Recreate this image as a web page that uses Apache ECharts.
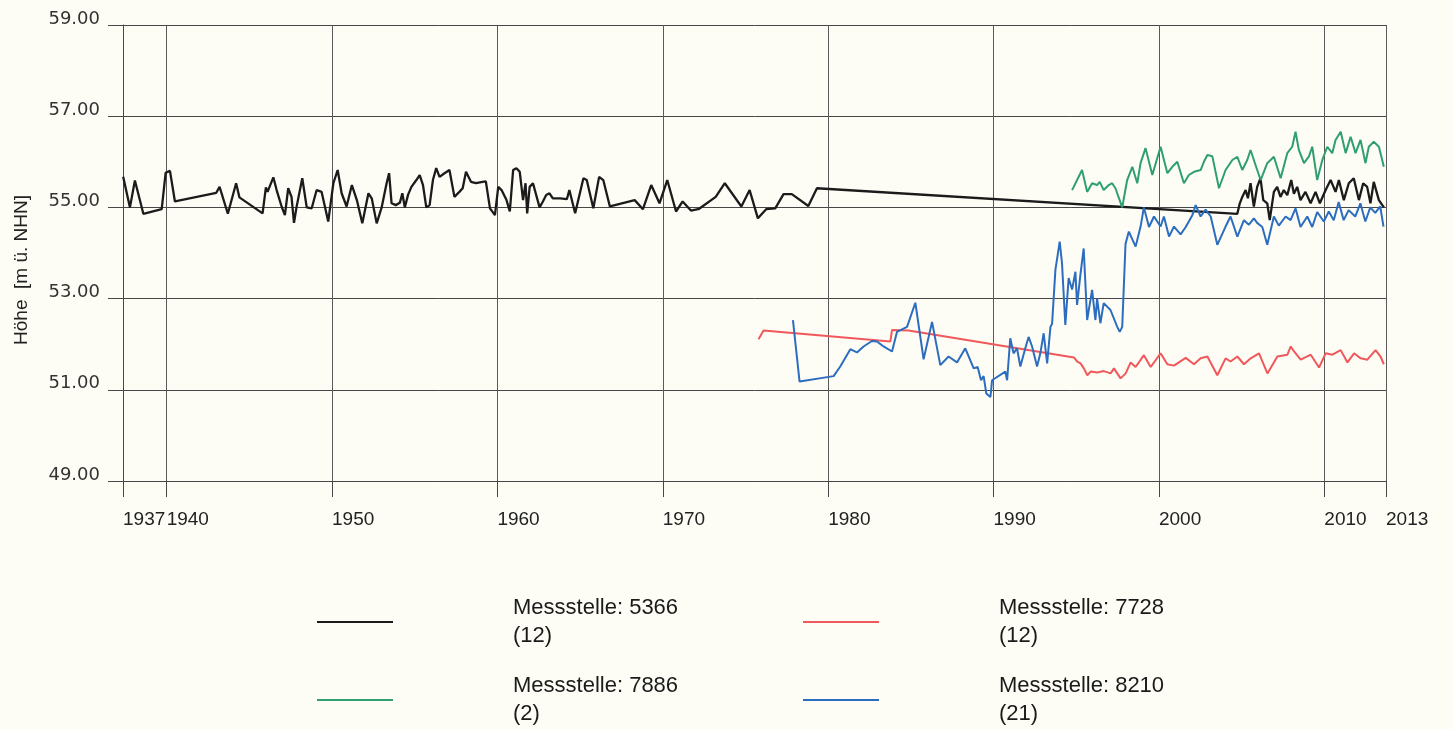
<!DOCTYPE html>
<html>
<head>
<meta charset="utf-8">
<script src="https://cdn.jsdelivr.net/npm/echarts@6/dist/echarts.min.js"></script>
<style>
  html, body { margin: 0; padding: 0; background: #fdfdf6; }
  #chart { width: 1454px; height: 729px; }
</style>
</head>
<body>
<div id="chart"></div>
<script>
// Grundwasserstände (m ü. NHN) der Messstellen, Zeit in Dezimaljahren
const years5366 = [1937.37,1937.78,1938.08,1938.59,1939.70,1939.94,1940.20,1940.50,1943.00,1943.20,1943.70,1944.20,1944.40,1945.80,1946.00,1946.10,1946.45,1946.65,1946.95,1947.15,1947.35,1947.55,1947.70,1947.85,1948.20,1948.47,1948.77,1949.07,1949.37,1949.77,1950.08,1950.34,1950.58,1950.88,1951.20,1951.50,1951.83,1952.20,1952.40,1952.70,1953.00,1953.30,1953.45,1953.60,1953.85,1954.10,1954.25,1954.40,1954.60,1954.80,1955.10,1955.30,1955.50,1955.70,1955.90,1956.10,1956.30,1956.50,1956.80,1957.10,1957.40,1957.70,1957.90,1958.10,1958.40,1958.70,1959.10,1959.30,1959.55,1959.85,1960.05,1960.25,1960.55,1960.75,1960.95,1961.15,1961.35,1961.55,1961.70,1961.80,1961.95,1962.15,1962.55,1962.75,1962.95,1963.15,1963.35,1963.80,1964.20,1964.35,1964.70,1965.20,1965.40,1965.80,1966.15,1966.40,1966.80,1968.30,1968.80,1969.30,1969.80,1970.27,1970.80,1971.20,1971.70,1972.20,1973.20,1973.75,1974.75,1975.25,1975.75,1976.25,1976.80,1977.30,1977.80,1978.80,1979.32,2004.74,2004.89,2005.04,2005.24,2005.38,2005.54,2005.74,2005.94,2006.14,2006.31,2006.55,2006.70,2006.95,2007.15,2007.35,2007.55,2007.76,2008.00,2008.16,2008.36,2008.56,2008.86,2009.17,2009.47,2009.73,2010.08,2010.38,2010.68,2010.88,2011.18,2011.48,2011.78,2012.09,2012.35,2012.59,2012.79,2012.99,2013.30,2013.60];
const levels5366 = [55.67,55.00,55.59,54.86,54.96,55.76,55.80,55.13,55.32,55.45,54.86,55.53,55.22,54.87,55.44,55.34,55.66,55.38,55.02,54.83,55.42,55.23,54.66,55.00,55.64,55.00,54.98,55.38,55.34,54.69,55.53,55.82,55.31,55.02,55.49,55.16,54.65,55.31,55.20,54.65,55.00,55.53,55.75,55.09,55.05,55.10,55.31,55.00,55.28,55.45,55.60,55.71,55.49,55.00,55.05,55.60,55.86,55.67,55.75,55.82,55.23,55.34,55.42,55.78,55.56,55.53,55.56,55.57,54.98,54.83,55.45,55.38,55.16,54.91,55.82,55.86,55.78,55.16,55.53,54.87,55.45,55.53,55.00,55.13,55.27,55.31,55.20,55.20,55.18,55.38,54.87,55.64,55.60,54.98,55.67,55.60,55.02,55.16,54.96,55.49,55.09,55.60,54.91,55.13,54.93,54.97,55.23,55.53,55.02,55.38,54.76,54.96,54.98,55.29,55.29,55.03,55.42,54.86,55.09,55.23,55.38,55.20,55.53,55.02,55.45,55.64,55.16,55.09,54.72,55.34,55.45,55.23,55.38,55.27,55.60,55.30,55.45,55.16,55.34,55.09,55.34,55.09,55.38,55.60,55.34,55.60,55.16,55.53,55.64,55.16,55.53,55.45,55.09,55.56,55.16,55.00];

const years7728 = [1975.79,1976.09,1983.76,1983.86,1984.86,1984.96,1994.86,1995.06,1995.26,1995.46,1995.67,1995.87,1996.27,1996.67,1997.08,1997.28,1997.68,1997.99,1998.29,1998.59,1999.09,1999.50,2000.10,2000.51,2000.91,2001.62,2002.12,2002.52,2002.93,2003.53,2004.03,2004.33,2004.74,2005.14,2005.55,2006.05,2006.56,2007.16,2007.77,2007.97,2008.17,2008.57,2009.18,2009.68,2010.08,2010.49,2010.99,2011.40,2011.80,2012.20,2012.60,2013.10,2013.40,2013.60];
const levels7728 = [52.11,52.30,52.06,52.31,52.30,52.28,51.71,51.62,51.58,51.47,51.32,51.40,51.38,51.41,51.36,51.47,51.25,51.36,51.60,51.50,51.76,51.50,51.80,51.56,51.53,51.70,51.56,51.69,51.73,51.32,51.69,51.62,51.73,51.56,51.69,51.80,51.36,51.73,51.77,51.95,51.84,51.66,51.77,51.49,51.80,51.77,51.87,51.60,51.80,51.69,51.66,51.87,51.73,51.56];

const years7886 = [1994.75,1995.05,1995.35,1995.66,1995.96,1996.26,1996.42,1996.66,1996.97,1997.17,1997.37,1997.78,1998.08,1998.39,1998.69,1998.89,1999.19,1999.60,2000.10,2000.51,2000.81,2001.11,2001.51,2001.81,2002.12,2002.52,2002.72,2002.93,2003.23,2003.63,2004.03,2004.44,2004.74,2005.04,2005.34,2005.54,2005.84,2006.15,2006.55,2006.95,2007.36,2007.76,2008.06,2008.26,2008.46,2008.77,2009.07,2009.27,2009.57,2009.88,2010.18,2010.48,2010.68,2010.99,2011.29,2011.59,2011.89,2012.19,2012.49,2012.69,2012.99,2013.30,2013.60];
const levels7886 = [55.38,55.60,55.82,55.34,55.53,55.49,55.56,55.38,55.49,55.53,55.42,55.00,55.60,55.89,55.53,55.97,56.30,55.71,56.33,55.75,55.89,56.00,55.53,55.71,55.78,55.82,56.00,56.15,56.12,55.42,55.82,56.04,56.11,55.82,56.04,56.26,55.93,55.60,55.97,56.11,55.64,56.19,56.33,56.66,56.26,55.97,56.12,56.33,55.60,56.04,56.33,56.19,56.48,56.66,56.19,56.55,56.19,56.48,55.97,56.33,56.44,56.33,55.89];

const years8210 = [1977.87,1978.27,1980.33,1980.73,1981.34,1981.74,1982.14,1982.65,1982.95,1983.35,1983.86,1984.16,1984.77,1985.27,1985.77,1986.28,1986.78,1987.28,1987.79,1988.29,1988.80,1989.04,1989.24,1989.40,1989.56,1989.81,1989.91,1990.71,1990.82,1991.01,1991.21,1991.42,1991.62,1991.92,1992.12,1992.33,1992.63,1992.83,1993.03,1993.24,1993.44,1993.54,1993.74,1994.00,1994.14,1994.34,1994.54,1994.75,1994.95,1995.05,1995.25,1995.45,1995.66,1995.96,1996.16,1996.26,1996.46,1996.66,1997.07,1997.48,1997.63,1997.78,1997.98,1998.18,1998.59,1998.89,1999.09,1999.40,1999.70,2000.10,2000.30,2000.61,2000.91,2001.31,2001.62,2002.02,2002.22,2002.52,2002.82,2003.13,2003.53,2004.03,2004.33,2004.74,2005.14,2005.44,2005.74,2005.94,2006.25,2006.55,2006.95,2007.25,2007.66,2007.96,2008.26,2008.56,2008.97,2009.27,2009.57,2009.97,2010.27,2010.57,2010.87,2011.17,2011.47,2011.87,2012.18,2012.48,2012.78,2013.08,2013.38,2013.58];
const levels8210 = [52.53,51.18,51.30,51.51,51.89,51.82,51.95,52.07,52.06,51.95,51.84,52.27,52.38,52.91,51.67,52.49,51.54,51.73,51.60,51.91,51.47,51.50,51.21,51.30,50.92,50.84,51.21,51.40,51.21,52.13,51.80,51.91,51.51,51.91,52.16,51.95,51.51,51.80,52.24,51.58,52.38,52.45,53.63,54.25,53.77,52.42,53.45,53.20,53.59,52.86,53.52,54.10,52.53,53.19,52.53,53.00,52.46,52.90,52.75,52.38,52.27,52.38,54.20,54.47,54.14,54.58,55.00,54.57,54.80,54.58,54.80,54.36,54.58,54.41,54.57,54.83,55.05,54.80,54.95,54.80,54.18,54.58,54.80,54.36,54.72,54.62,54.76,54.66,54.57,54.18,54.80,54.60,54.80,54.72,54.98,54.57,54.80,54.57,54.90,54.69,54.91,54.72,55.12,54.72,54.94,54.80,55.09,54.69,55.00,54.88,55.02,54.58];

// Zeitachse: Beginn/Ende der Aufzeichnung und Jahrzehnte dazwischen
const xStart = 1937.36;
const xEnd = 2013.73;
const xTicks = [xStart, 1940, 1950, 1960, 1970, 1980, 1990, 2000, 2010, xEnd];

const seriesNames = ['Messstelle: 5366\n(12)', 'Messstelle: 7728\n(12)', 'Messstelle: 7886\n(2)', 'Messstelle: 8210\n(21)'];
const seriesColors = ['#1b1b1b', '#f0585b', '#2f9e70', '#2c6dbf'];

const zip = (xs, ys) => xs.map((x, i) => [x, ys[i]]);
const seriesData = [
  zip(years5366, levels5366),
  zip(years7728, levels7728),
  zip(years7886, levels7886),
  zip(years8210, levels8210)
];

const gridColor = '#474747';
const chart = echarts.init(document.getElementById('chart'));

// Legende: 2 x 2 Raster, eine Legende je Messstelle
const legendPos = [
  { left: 317, top: 594 },
  { left: 803, top: 594 },
  { left: 317, top: 672 },
  { left: 803, top: 672 }
];
const legends = seriesNames.map((name, i) => ({
  data: [name],
  left: legendPos[i].left,
  top: legendPos[i].top,
  padding: 0,
  orient: 'horizontal',
  icon: 'rect',
  itemWidth: 76,
  itemHeight: 2,
  selectedMode: false,
  textStyle: {
    fontFamily: 'Liberation Sans, Arial, sans-serif',
    fontSize: 22,
    lineHeight: 28,
    color: '#1a1a1a',
    padding: [0, 0, 0, 115]
  }
}));

chart.setOption({
  animation: false,
  backgroundColor: '#fdfdf6',
  grid: { left: 123, right: 68, top: 25, bottom: 248, containLabel: false, outerBoundsMode: 'none' },
  legend: legends,
  xAxis: {
    type: 'value',
    min: xStart,
    max: xEnd,
    axisLine: { show: true, lineStyle: { color: gridColor, width: 1 } },
    axisTick: { show: true, length: 16, customValues: xTicks, lineStyle: { color: gridColor, width: 1 } },
    axisLabel: {
      customValues: xTicks,
      formatter: v => String(Math.floor(v + 1e-6)),
      align: 'left',
      margin: 29,
      hideOverlap: false,
      showMinLabel: true,
      showMaxLabel: true,
      fontFamily: 'Liberation Sans, Arial, sans-serif',
      fontSize: 19,
      color: '#222'
    },
    splitLine: { show: true, lineStyle: { color: '#5a5a5a', width: 1 } }
  },
  yAxis: {
    type: 'value',
    min: 49,
    max: 59,
    interval: 2,
    name: 'Höhe  [m ü. NHN]',
    nameLocation: 'middle',
    nameGap: 92,
    nameRotate: 90,
    nameTextStyle: {
      fontFamily: 'Liberation Sans, Arial, sans-serif',
      fontSize: 19,
      color: '#222',
      padding: [0, 34, 0, 0]
    },
    axisLine: { show: true, lineStyle: { color: gridColor, width: 1 } },
    axisTick: { show: true, length: 15, lineStyle: { color: gridColor, width: 1 } },
    axisLabel: {
      formatter: v => v.toFixed(2),
      margin: 23,
      verticalAlign: 'bottom',
      lineHeight: 12,
      fontFamily: 'DejaVu Sans, Verdana, sans-serif',
      fontSize: 18,
      color: '#333'
    },
    splitLine: { show: true, lineStyle: { color: gridColor, width: 1 } }
  },
  series: seriesNames.map((name, i) => ({
    name: name,
    type: 'line',
    data: seriesData[i],
    symbol: 'none',
    showSymbol: false,
    smooth: false,
    lineStyle: { color: seriesColors[i], width: i === 0 ? 2.3 : 2 },
    itemStyle: { color: seriesColors[i] },
    z: i === 0 ? 2 : 3
  }))
});
</script>
</body>
</html>
